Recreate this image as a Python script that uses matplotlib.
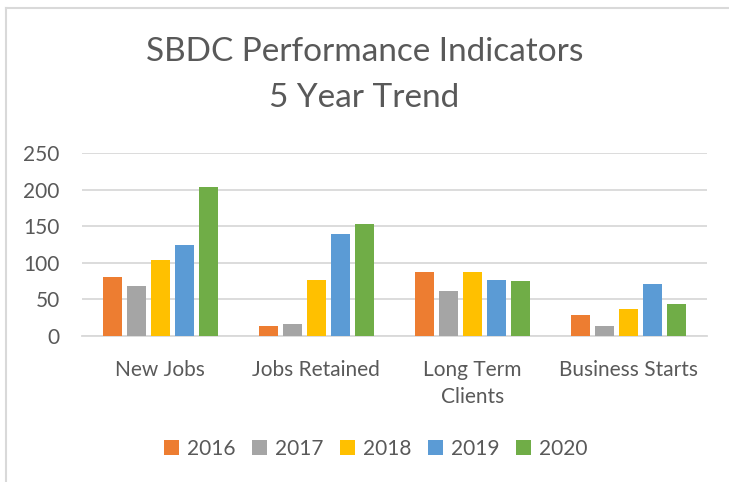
import matplotlib.pyplot as plt
import numpy as np
from matplotlib.lines import Line2D

# chart data
categories = ['New Jobs', 'Jobs Retained', 'Long Term\nClients', 'Business Starts']
years = ['2016', '2017', '2018', '2019', '2020']
v2016 = [81, 14, 88, 29]
v2017 = [68, 16, 61, 14]
v2018 = [104, 77, 87, 37]
v2019 = [125, 139, 77, 71]
v2020 = [203, 153, 75, 44]
colors = ['#ED7D31', '#A5A5A5', '#FFC000', '#5B9BD5', '#70AD47']

plt.rcParams['font.family'] = ['Lato', 'DejaVu Sans']
text_color = '#595959'

fig = plt.figure(figsize=(7.29, 4.82), dpi=100)
ax = fig.add_axes([82 / 729, 1 - 336 / 482, 625 / 729, 183 / 482])

x = np.arange(len(categories))
series = [v2016, v2017, v2018, v2019, v2020]
step = 24 / 156
width = 19 / 156
for i, (vals, year, col) in enumerate(zip(series, years, colors)):
    ax.bar(x + (i - 2) * step, vals, width, color=col, label=year, zorder=3)

ax.set_xlim(-0.5, len(categories) - 0.5)
ax.set_ylim(0, 250)
ax.set_yticks(range(0, 251, 50))
ax.yaxis.grid(True, color='#D9D9D9', linewidth=1.3, zorder=0)
for side in ['top', 'right', 'left']:
    ax.spines[side].set_visible(False)
ax.spines['bottom'].set_color('#D9D9D9')
ax.spines['bottom'].set_linewidth(1.3)
ax.tick_params(axis='both', length=0, labelsize=15, colors=text_color)
ax.tick_params(axis='y', pad=16)
ax.tick_params(axis='x', pad=17)
ax.set_xticks(x)
ax.set_xticklabels(categories, linespacing=1.45)

fig.text(0.5, 1 - 52 / 482, 'SBDC Performance Indicators', ha='center',
         va='center', fontsize=24, color=text_color)
fig.text(0.5, 1 - 98 / 482, '5 Year Trend', ha='center', va='center',
         fontsize=24, color=text_color)

ax.legend(loc='center', bbox_to_anchor=(376 / 729, 1 - 449 / 482),
          bbox_transform=fig.transFigure, ncol=5, frameon=False,
          fontsize=15, labelcolor=text_color, handlelength=0.7,
          handleheight=0.7, handletextpad=0.4, columnspacing=0.8)

# outer chart border (only top and left visible)
fig.add_artist(Line2D([6 / 729, 1], [1 - 8 / 482, 1 - 8 / 482],
                      transform=fig.transFigure, color='#D9D9D9', linewidth=1.5))
fig.add_artist(Line2D([6 / 729, 6 / 729], [0, 1 - 8 / 482],
                      transform=fig.transFigure, color='#D9D9D9', linewidth=1.5))

fig.savefig('out.png', dpi=100)
